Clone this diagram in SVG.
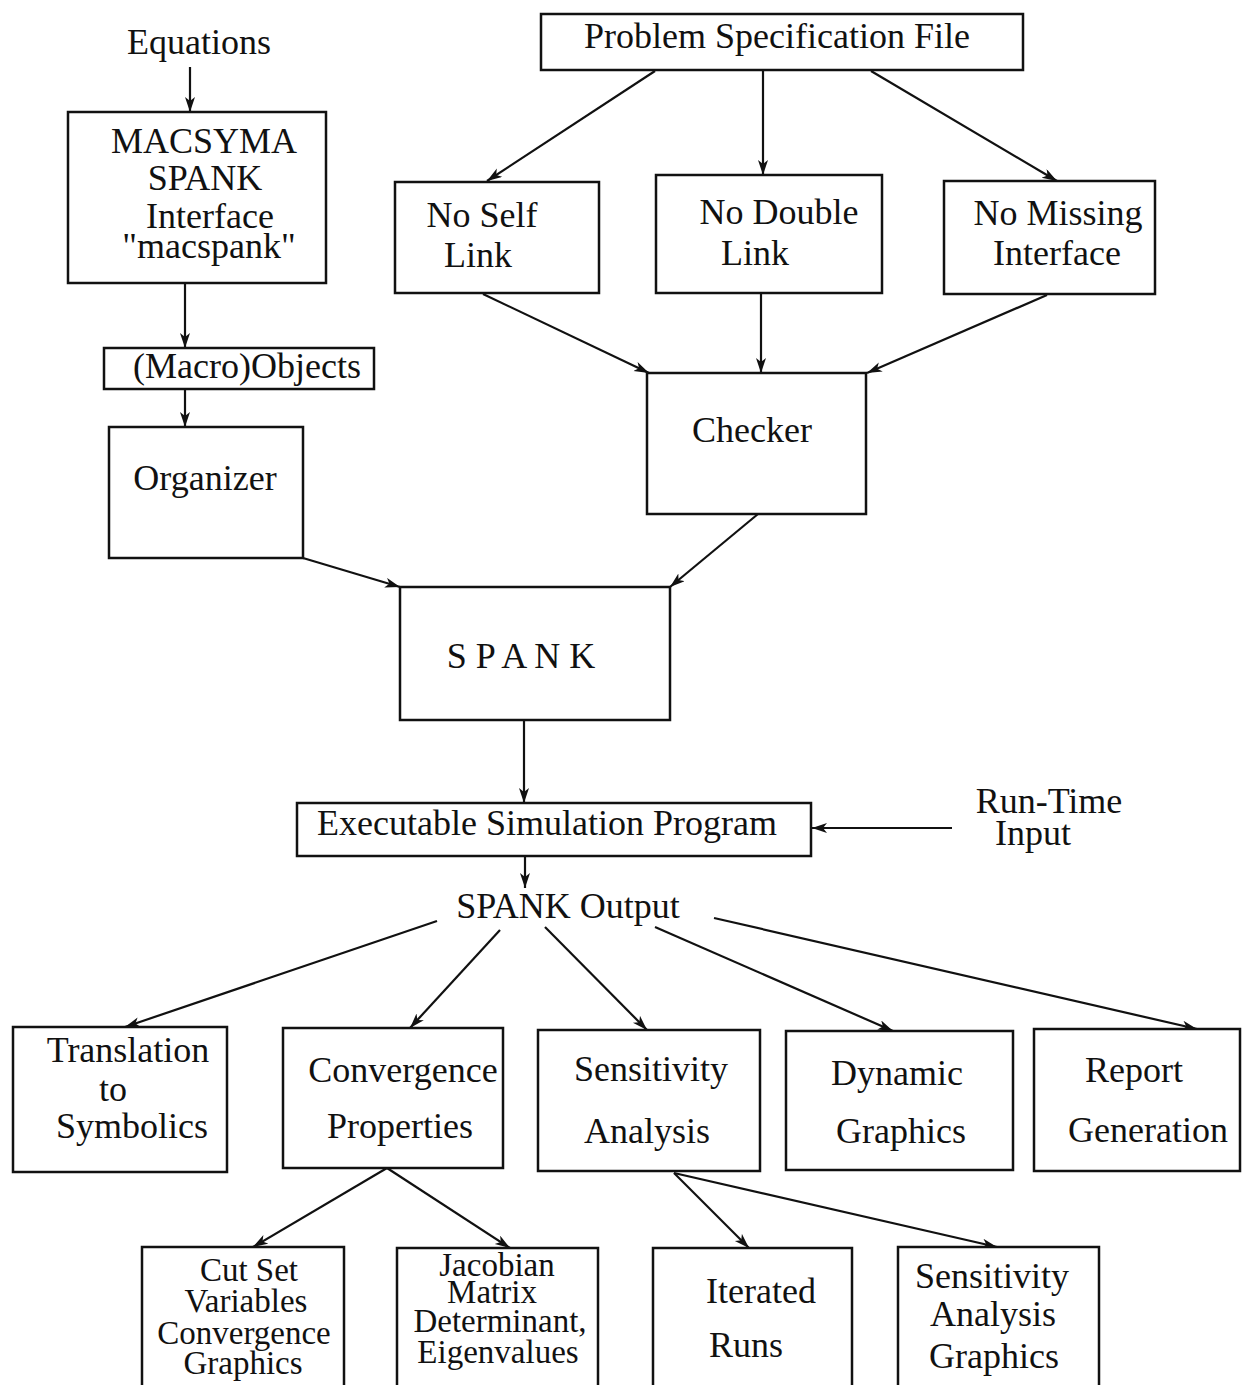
<svg xmlns="http://www.w3.org/2000/svg" width="1242" height="1385" viewBox="0 0 1242 1385">
<defs>
<marker id="ah" markerUnits="userSpaceOnUse" markerWidth="16" markerHeight="12" refX="15" refY="5" orient="auto">
<path d="M0,0 L15,5 L0,10 L4,5 Z" fill="#111"/>
</marker>
<style>
.box{fill:#fff;stroke:#111;stroke-width:2.5}
.t{font-family:"Liberation Serif","Times New Roman",serif;font-size:36px;fill:#111;text-anchor:middle}
.s{font-size:33px}
.c{stroke:#111;stroke-width:2.2;fill:none;marker-end:url(#ah)}
</style>
</defs>
<rect width="1242" height="1385" fill="#fff"/>
<g id="connectors">
<line class="c" x1="190" y1="67" x2="190" y2="112"/>
<line class="c" x1="185" y1="283" x2="185" y2="348"/>
<line class="c" x1="185" y1="389" x2="185" y2="427"/>
<line class="c" x1="655" y1="71" x2="487" y2="181"/>
<line class="c" x1="763" y1="71" x2="763" y2="175"/>
<line class="c" x1="871" y1="71" x2="1057" y2="181"/>
<line class="c" x1="483" y1="294" x2="649" y2="373"/>
<line class="c" x1="761" y1="294" x2="761" y2="373"/>
<line class="c" x1="1047" y1="295" x2="867" y2="373"/>
<line class="c" x1="303" y1="558" x2="400" y2="587"/>
<line class="c" x1="758" y1="514" x2="670" y2="587"/>
<line class="c" x1="524" y1="720" x2="524" y2="803"/>
<line class="c" x1="952" y1="828" x2="812" y2="828"/>
<line class="c" x1="525" y1="856" x2="525" y2="888"/>
<line class="c" x1="437" y1="921" x2="125" y2="1027"/>
<line class="c" x1="500" y1="930" x2="410" y2="1028"/>
<line class="c" x1="545" y1="927" x2="647" y2="1030"/>
<line class="c" x1="655" y1="927" x2="893" y2="1031"/>
<line class="c" x1="714" y1="918" x2="1197" y2="1029"/>
<line class="c" x1="387" y1="1168" x2="253" y2="1247"/>
<line class="c" x1="387" y1="1168" x2="510" y2="1248"/>
<line class="c" x1="674" y1="1173" x2="749" y2="1248"/>
<line class="c" x1="674" y1="1173" x2="997" y2="1247"/>
</g>
<g id="equations"><text class="t" x="199" y="54">Equations</text></g>
<g id="macsyma">
<rect class="box" x="68" y="112" width="258" height="171"/>
<text class="t" x="204" y="153">MACSYMA</text>
<text class="t" x="205" y="190">SPANK</text>
<text class="t" x="210" y="228">Interface</text>
<text class="t" x="209" y="258">"macspank"</text>
</g>
<g id="macroobjects">
<rect class="box" x="104" y="348" width="270" height="41"/>
<text class="t" x="247" y="378">(Macro)Objects</text>
</g>
<g id="organizer">
<rect class="box" x="109" y="427" width="194" height="131"/>
<text class="t" x="205" y="490">Organizer</text>
</g>
<g id="psf">
<rect class="box" x="541" y="14" width="482" height="56"/>
<text class="t" x="777" y="48">Problem Specification File</text>
</g>
<g id="noself">
<rect class="box" x="395" y="182" width="204" height="111"/>
<text class="t" x="482" y="227">No Self</text>
<text class="t" x="478" y="267">Link</text>
</g>
<g id="nodouble">
<rect class="box" x="656" y="175" width="226" height="118"/>
<text class="t" x="779" y="224">No Double</text>
<text class="t" x="755" y="265">Link</text>
</g>
<g id="nomissing">
<rect class="box" x="944" y="181" width="211" height="113"/>
<text class="t" x="1058" y="225">No Missing</text>
<text class="t" x="1057" y="265">Interface</text>
</g>
<g id="checker">
<rect class="box" x="647" y="373" width="219" height="141"/>
<text class="t" x="752" y="442">Checker</text>
</g>
<g id="spank">
<rect class="box" x="400" y="587" width="270" height="133"/>
<text class="t" x="521" y="668">S P A N K</text>
</g>
<g id="esp">
<rect class="box" x="297" y="803" width="514" height="53"/>
<text class="t" x="547" y="835">Executable Simulation Program</text>
</g>
<g id="runtime">
<text class="t" x="1049" y="813">Run-Time</text>
<text class="t" x="1033" y="845">Input</text>
</g>
<g id="spankoutput"><text class="t" x="568" y="918">SPANK Output</text></g>
<g id="translation">
<rect class="box" x="13" y="1027" width="214" height="145"/>
<text class="t" x="128" y="1062">Translation</text>
<text class="t" x="113" y="1101">to</text>
<text class="t" x="132" y="1138">Symbolics</text>
</g>
<g id="convergence">
<rect class="box" x="283" y="1028" width="220" height="140"/>
<text class="t" x="403" y="1082">Convergence</text>
<text class="t" x="400" y="1138">Properties</text>
</g>
<g id="sensitivity">
<rect class="box" x="538" y="1030" width="222" height="141"/>
<text class="t" x="651" y="1081">Sensitivity</text>
<text class="t" x="647" y="1143">Analysis</text>
</g>
<g id="dynamic">
<rect class="box" x="786" y="1031" width="227" height="139"/>
<text class="t" x="897" y="1085">Dynamic</text>
<text class="t" x="901" y="1143">Graphics</text>
</g>
<g id="report">
<rect class="box" x="1034" y="1029" width="206" height="142"/>
<text class="t" x="1134" y="1082">Report</text>
<text class="t" x="1148" y="1142">Generation</text>
</g>
<g id="cutset">
<rect class="box" x="142" y="1247" width="202" height="160"/>
<text class="t s" x="249" y="1281">Cut Set</text>
<text class="t s" x="246" y="1312">Variables</text>
<text class="t s" x="244" y="1344">Convergence</text>
<text class="t s" x="243" y="1374">Graphics</text>
</g>
<g id="jacobian">
<rect class="box" x="397" y="1248" width="201" height="160"/>
<text class="t s" x="497" y="1276">Jacobian</text>
<text class="t s" x="492" y="1303">Matrix</text>
<text class="t s" x="500" y="1332">Determinant,</text>
<text class="t s" x="498" y="1363">Eigenvalues</text>
</g>
<g id="iterated">
<rect class="box" x="653" y="1248" width="199" height="160"/>
<text class="t" x="761" y="1303">Iterated</text>
<text class="t" x="746" y="1357">Runs</text>
</g>
<g id="sag">
<rect class="box" x="898" y="1247" width="201" height="160"/>
<text class="t" x="992" y="1288">Sensitivity</text>
<text class="t" x="993" y="1326">Analysis</text>
<text class="t" x="994" y="1368">Graphics</text>
</g>
</svg>
